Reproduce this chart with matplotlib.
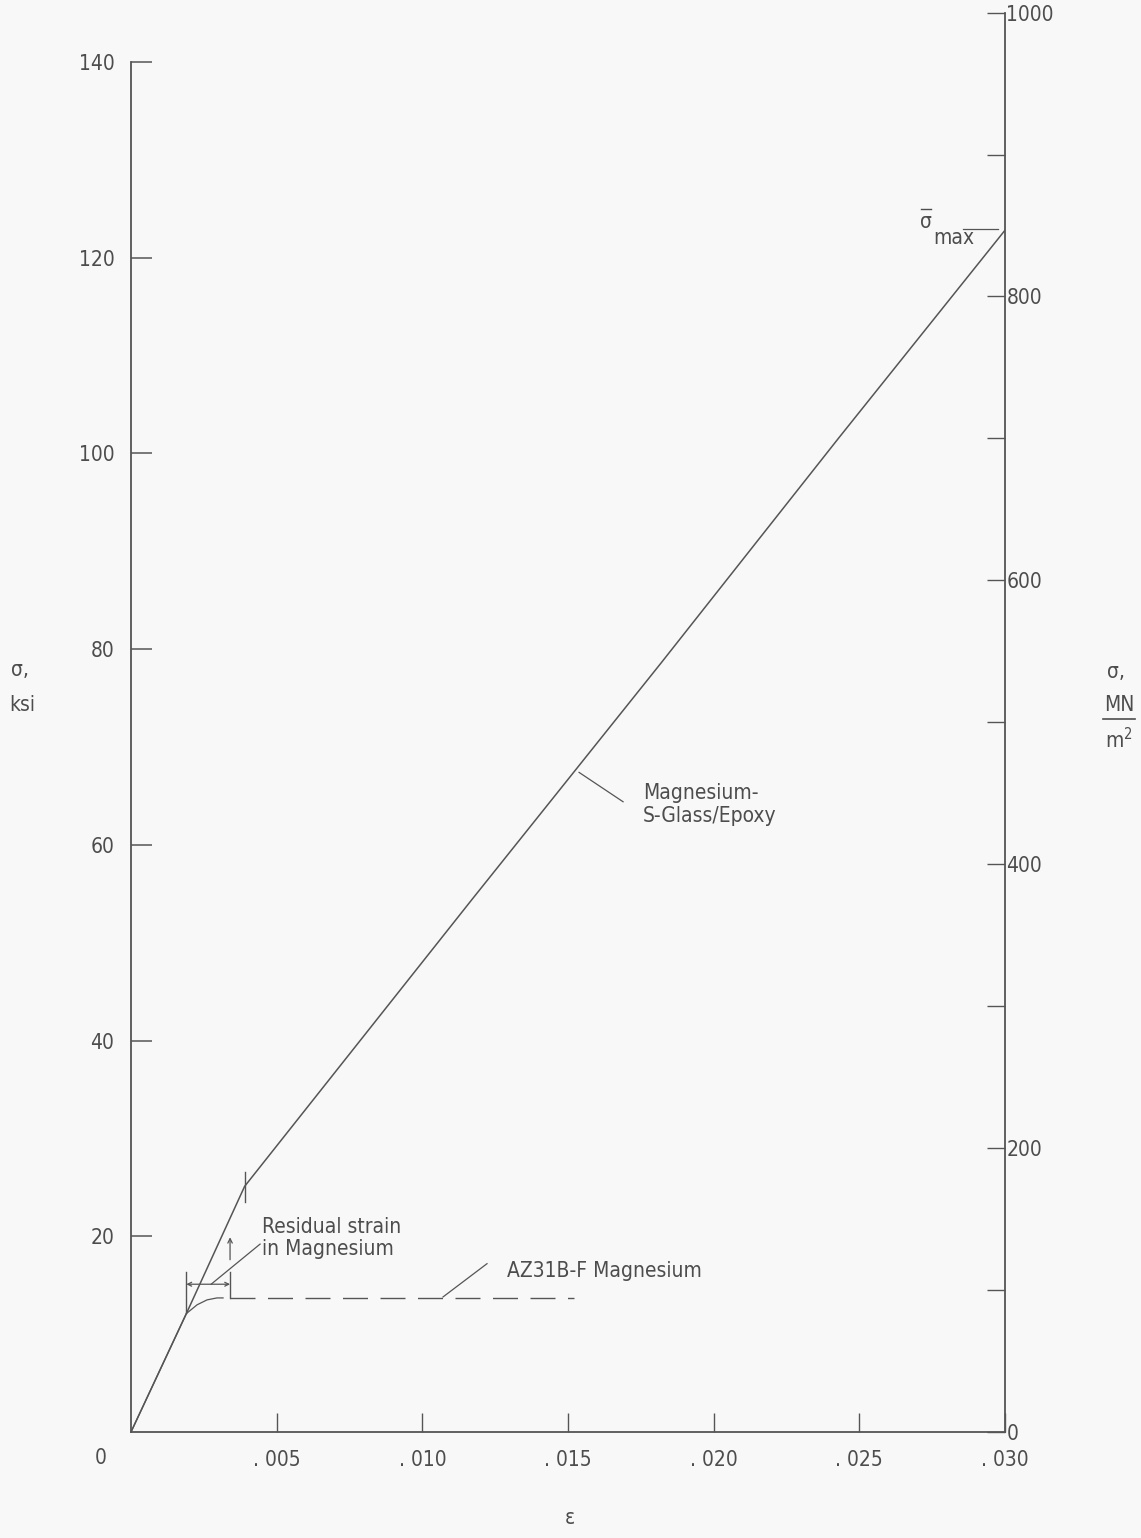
import numpy as np
import matplotlib.pyplot as plt
from matplotlib import font_manager as fm
from matplotlib.ticker import FixedLocator, NullFormatter

# pick a narrow face if one is around
ttf = fm.fontManager.ttflist
names = {f.name for f in ttf}
if 'Liberation Sans Narrow' in names:
    plt.rcParams['font.family'] = ['Liberation Sans Narrow', 'DejaVu Sans']
elif any(f.name == 'DejaVu Sans' and f.stretch == 'condensed' for f in ttf):
    plt.rcParams['font.family'] = ['DejaVu Sans']
    plt.rcParams['font.stretch'] = 'condensed'
else:
    plt.rcParams['font.family'] = ['DejaVu Sans']

KSI_TO_MPA = 6.894757
INK = '#555555'
TXT = '#4d4d4d'
FS = 15

# Magnesium-S-Glass/Epoxy composite, stress (ksi) vs strain
strain_comp = [0, 0.0019, 0.0039, 0.0117, 0.0182, 0.0243, 0.0300]
stress_comp = [0, 12.1, 25.1, 54.4, 78.6, 101.6, 122.8]

# AZ31B-F magnesium alone
strain_mg = [0, 0.0019, 0.00227, 0.00261, 0.00295, 0.00316]
stress_mg = [0, 12.1, 13.0, 13.5, 13.7, 13.7]
strain_mg_ext = [0.0034, 0.0152]
stress_mg_ext = [13.7, 13.7]

# residual strain in the magnesium (bracketed on the plot)
resid_start = 0.0019
resid_end = 0.0034

ksi_ticks = [20, 40, 60, 80, 100, 120, 140]
mpa_major = [0, 200, 400, 600, 800, 1000]
mpa_minor = [100, 300, 500, 700, 900]
strain_ticks = [0.005, 0.010, 0.015, 0.020, 0.025, 0.030]
strain_labels = ['. 005', '. 010', '. 015', '. 020', '. 025', '. 030']

fig = plt.figure(figsize=(11.41, 15.38), dpi=100, facecolor='#f8f8f8')
ax = fig.add_axes([131 / 1141, 1 - 1432 / 1538, 874 / 1141, 1419.4 / 1538])
ax.set_facecolor('none')

ax.plot(strain_comp, stress_comp, color=INK, lw=1.1)
ax.plot(strain_mg, stress_mg, color=INK, lw=0.9)
ax.plot(strain_mg_ext, stress_mg_ext, color=INK, lw=1.0, linestyle=(0, (18, 9)))

ax.set_xlim(0, 0.030)
ax.set_ylim(0, 1000 / KSI_TO_MPA)

for s in ['top', 'right']:
    ax.spines[s].set_visible(False)
for s in ['left', 'bottom']:
    ax.spines[s].set_color(INK)
    ax.spines[s].set_linewidth(1.3)
ax.spines['left'].set_bounds(0, 140)

ax.set_yticks(ksi_ticks)
ax.set_yticklabels([str(v) for v in ksi_ticks])
ax.set_xticks(strain_ticks)
ax.set_xticklabels(strain_labels)
ax.tick_params(axis='y', direction='in', length=15, width=1.1, color=INK,
               pad=12, labelsize=FS, labelcolor=TXT)
ax.tick_params(axis='x', direction='in', length=14, width=1.0, color=INK,
               pad=13, labelsize=FS, labelcolor=TXT)
ax.annotate('0', xy=(0, 0), xytext=(-22, -19), textcoords='offset points',
            ha='center', va='center', fontsize=FS, color=TXT)

# SI scale on the right
ax2 = ax.twinx()
ax2.set_ylim(0, 1000)
for s in ['top', 'left', 'bottom']:
    ax2.spines[s].set_visible(False)
ax2.spines['right'].set_color(INK)
ax2.spines['right'].set_linewidth(1.3)
ax2.yaxis.set_major_locator(FixedLocator(mpa_major))
ax2.yaxis.set_minor_locator(FixedLocator(mpa_minor))
ax2.yaxis.set_minor_formatter(NullFormatter())
ax2.set_yticklabels([str(v) for v in mpa_major])
ax2.tick_params(axis='y', which='both', direction='in', length=13, width=1.0,
                color=INK, pad=1, labelsize=FS, labelcolor=TXT)

# axis titles
fig.text(20 / 1141, 1 - 670 / 1538, 'σ,', ha='center', va='center', fontsize=FS, color=TXT)
fig.text(22 / 1141, 1 - 705 / 1538, 'ksi', ha='center', va='center', fontsize=FS, color=TXT)
fig.text(1116 / 1141, 1 - 672 / 1538, 'σ,', ha='center', va='center', fontsize=FS, color=TXT)
fig.text(1119 / 1141, 1 - 705 / 1538, 'MN', ha='center', va='center', fontsize=FS, color=TXT)
fig.add_artist(plt.Line2D([1103 / 1141, 1135 / 1141], [1 - 719 / 1538, 1 - 719 / 1538],
                          color=TXT, lw=1.2))
fig.text(1119 / 1141, 1 - 740 / 1538, 'm$^2$', ha='center', va='center', fontsize=FS, color=TXT)
fig.text(570 / 1141, 1 - 1518 / 1538, 'ε', ha='center', va='center', fontsize=FS, color=TXT)

# tick mark on the composite curve
ax.plot([0.0039, 0.0039], [23.5, 26.6], color=INK, lw=1.0)

# residual strain bracket
ax.plot([resid_start, resid_start], [12.2, 16.3], color=INK, lw=1.0)
ax.plot([resid_end, resid_end], [13.7, 16.3], color=INK, lw=1.0)
ax.annotate('', xy=(resid_start, 15.1), xytext=(resid_end, 15.1),
            arrowprops=dict(arrowstyle='<->', color=INK, lw=0.9,
                            mutation_scale=7, shrinkA=0, shrinkB=0))
ax.annotate('', xy=(resid_end, 19.9), xytext=(resid_end, 17.6),
            arrowprops=dict(arrowstyle='->', color=INK, lw=0.9,
                            mutation_scale=8, shrinkA=0, shrinkB=0))
ax.plot([0.00275, 0.00443], [15.1, 19.2], color=INK, lw=0.9)
ax.text(0.0045, 19.8, 'Residual strain\nin Magnesium', ha='left', va='center',
        fontsize=FS, color=TXT, linespacing=1.15)

# AZ31B-F label
ax.plot([0.01071, 0.01222], [13.8, 17.2], color=INK, lw=0.9)
ax.text(0.0129, 16.45, 'AZ31B-F Magnesium', ha='left', va='center', fontsize=FS, color=TXT)

# composite label
ax.plot([0.01538, 0.01689], [67.4, 64.4], color=INK, lw=0.9)
ax.text(0.01757, 64.1, 'Magnesium-\nS-Glass/Epoxy', ha='left', va='center',
        fontsize=FS, color=TXT, linespacing=1.15)

# maximum stress marker
ax.plot([0.02856, 0.02976], [122.9, 122.9], color=INK, lw=0.9)
ax.text(0.02729, 123.6, 'σ', ha='center', va='center', fontsize=FS, color=TXT)
ax.plot([0.02713, 0.02745], [125.0, 125.0], color=TXT, lw=1.0)
ax.text(0.02753, 122.0, 'max', ha='left', va='center', fontsize=FS, color=TXT)

fig.savefig('out.png', dpi=100, facecolor=fig.get_facecolor())
